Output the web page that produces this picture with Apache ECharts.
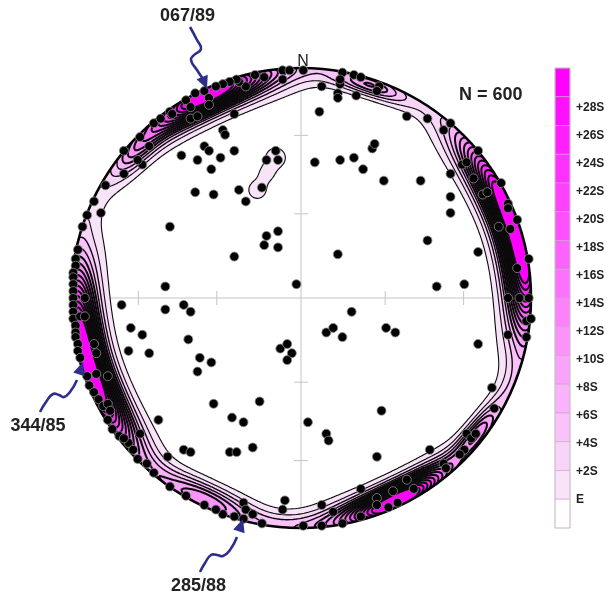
<!DOCTYPE html>
<html><head><meta charset="utf-8">
<script src="https://cdn.jsdelivr.net/npm/echarts/dist/echarts.min.js"></script>
<style>html,body{margin:0;padding:0;background:#fff}#c{width:614px;height:596px}</style>
</head><body><div id="c"></div>
<script>
// ---------- DATA (projected pole positions, percent of net radius) ----------
const poleXY = [
[-78,-3],[-59,-5],[-51,-3],[-48,-6],[-74,-13],[-69,-16],[-49,-18],[-75,-23],[-66,-24],[-44,-26],[-39,-28],[-45,-32],
[-9,-22],[-6,-20],[-4,-24],[-6,-27],[-38,-46],[-18,-45],[-30,-52],[-25,-54],[-62,-53],[-70,-59],[-51,-66],[-48,-67],
[-31,-67],[-28,-67],[-21,-65],[-58,-69],[-7,-88],[-8,-92],[-25,-89],[-24,-92],[-21,-94],
[22,-6],[11,-15],[14,-13],[18,-17],[37,-13],[41,-15],[77,-20],[83,-39],[84,-48],[35,-49],[3,-54],[11,-59],[12,-62],
[33,-69],[56,-66],[90,-16],[90,0],[95,0],
[72,-59],[74,-61],[76,-59],[71,-66],[69,-68],[62,-72],[63,-74],[46,-79],[49,-83],[40,-84],[33,-87],[33,-90],[38,-91],
[42,-89],[26,-83],[9,-90],[14,-93],[26,-95],[18,-98],[9,-99],[1,-99],[-17,-98],[-25,-96],[-29,-95],[-34,-94],[-37,-92],
[-42,-90],[-50,-86],[-57,-82],[-64,-76],
[98,-10],[98,-17],[100,-9],
[-42,66],[-40,64],[-29,64],[-52,62],[-45,60],[-35,61],[-39,56],[-11,64],[-15,60],[-10,60],[-17,48],[-27,47],[-24,42],
[-46,46],[-38,45],[-57,31],[-15,27],[-10,29],[-16,23],[-10,22],[-29,18],[-59,5],[-2,6],[-87,37],
[-29,80],[-34,73],[-33,71],[-69,58],[-71,60],[-66,66],[-77,54],[-85,49],[-77,64],[-70,70],[-64,76],[-61,78],[-57,81],[-90,42],
[8,81],[46,79],[55,78],[65,76],[62,73],[6,59],[17,60],[23,61],[27,56],[31,65],[32,67],[36,51],[52,51],[65,54],[65,44],
[65,37],[70,58],[72,59],[75,52],[77,64],[55,25],[16,19],[77,20],[59,5],[71,6],[79,45],[81,46],[87,50],[90,41],[90,39],
[91,30],[86,31],[94,34],[99,17],[94,13],[99,0],
[9,92],[17,93],[16,89],[24,88],[34,92],[33,90],[18,98],[23,97],[26,96],[17,95],[16,87],[-8,99],[-5,99],[1,99],[-8,95],
[-20,97],[-16,96],[-24,92],[-27,94],[-28,95],[-31,94],[-34,93],[-37,92],[-42,90],[-40,87],[-40,84],[-46,89],[-50,86],
[-48,83],[-48,78],[-45,79],[-56,80],
[-97,21],[-98,17],[-98,14],[-99,11],[-99,9],[-99,6],[-99,3],[-99,0],[-99,-3],[-99,-6],[-99,-9],[-98,-12],[-98,-15],
[-98,-17],[-97,-20],[-97,-23],[-96,-26],[-93,-34],[-92,-38],[-90,-41],[-88,-44],[-86,-47],[-84,-53],[-82,-57],[-79,-60],
[-75,-63],[-73,-66],[-94,0],[-96,-8],[-94,-8],[-90,-20],[-89,-24],[-89,-33],[-84,-34],[-84,-46],[-83,-49],[-77,-61],
[-71,-70],[-67,-72],[-95,31],[-93,36]
];
const sampleSize = 600;
const levelLabels = ['E','+2S','+4S','+6S','+8S','+10S','+12S','+14S','+16S','+18S','+20S','+22S','+24S','+26S','+28S'];
const contourLevels = [0,2,4,6,8,10,12,14,16,18,20,22,24,26,28];
// pole concentrations (azimuth deg, radius %, peak in sigma, spreads)
const clusterAz = [335, 72.5, 253.5, 154.5, 18, 128, 205, 312];
const clusterR = [97.5, 97.5, 97, 97.5, 97, 96, 95, 96];
const clusterPeak = [34, 34, 34, 34, 9, 9, 8, 8];
const clusterSpreadAz = [16, 25, 23.3, 14.6, 9, 8, 11, 9];
const clusterArcShape = [2, 2.8, 2.6, 2, 2, 2, 2, 2];
const clusterSpreadR = [5.6, 6, 6, 5, 3, 3, 4, 4];
// density along the primitive circle away from the main concentrations
const bandAz = [0,30,60,90,120,150,180,210,240,270,300,330];
const bandPeak = [4,3,1.5,1.5,6,1.5,6.5,8,2,2,2.5,1.5];
// small interior concentration
const blobX = [-11,-15,-19], blobY = [61,54,47], blobPeak = [2.6,2.0,2.6], blobSpread = [4,3,3.5];
const tickPlunge = [30, 60];
const annotationText = ['067/89','344/85','285/88'];

// ---------- density field ----------
const EXPECTED = 1.5, BAND_W = 4.2;
function wrapDeg(d){ d%=360; if(d>180)d-=360; if(d<-180)d+=360; return d; }
function bandAt(az){
  const n=bandAz.length, step=360/n; const k=Math.floor(az/step)%n; const f=(az-k*step)/step; const s=f*f*(3-2*f);
  return bandPeak[k]*(1-s)+bandPeak[(k+1)%n]*s;
}
function density(x,y){
  const r=Math.hypot(x,y); let az=Math.atan2(x,y)*180/Math.PI; if(az<0)az+=360;
  let s=-EXPECTED; const dr=100-r;
  s+=bandAt(az)*Math.exp(-dr*dr/(2*BAND_W*BAND_W));
  for(let k=0;k<clusterAz.length;k++){
    const da=Math.abs(wrapDeg(az-clusterAz[k]))/clusterSpreadAz[k], rr=(r-clusterR[k])/clusterSpreadR[k];
    s+=clusterPeak[k]*Math.exp(-Math.pow(da,clusterArcShape[k])-rr*rr/2);
  }
  for(let k=0;k<blobX.length;k++){
    const dx=x-blobX[k], dy=y-blobY[k];
    s+=blobPeak[k]*Math.exp(-(dx*dx+dy*dy)/(2*blobSpread[k]*blobSpread[k]));
  }
  return s;
}
const G=300, EXT=106, H=2*EXT/G, N1=G+1;
const V=new Float32Array(N1*N1);
for(let j=0;j<N1;j++)for(let i=0;i<N1;i++)V[j*N1+i]=density(-EXT+i*H,-EXT+j*H);
const NB=contourLevels.length;
function bandOf(v){ if(v<contourLevels[0])return 0; let b=0; for(let k=0;k<NB;k++) if(v>=contourLevels[k]) b=k+1; return b; }
const cellBand=new Int8Array(G*G);
for(let j=0;j<G;j++)for(let i=0;i<G;i++){
  const cx=-EXT+(i+0.5)*H, cy=-EXT+(j+0.5)*H;
  if(Math.hypot(cx,cy)>103){cellBand[j*G+i]=0;continue;}
  const v=(V[j*N1+i]+V[j*N1+i+1]+V[(j+1)*N1+i]+V[(j+1)*N1+i+1])/4;
  cellBand[j*G+i]=bandOf(v);
}
function bandColor(b){
  if(b<=0) return '#ffffff';
  const t=(b-1)/(NB-1);
  const rb=Math.round(248+7*t), g=Math.round(228*(1-t));
  return 'rgb('+rb+','+g+','+rb+')';
}
function isoSegments(level){
  const segs=[];
  for(let j=0;j<G;j++)for(let i=0;i<G;i++){
    const x0=-EXT+i*H, y0=-EXT+j*H;
    if(Math.hypot(x0,y0)>104) continue;
    const a=V[j*N1+i], b=V[j*N1+i+1], c=V[(j+1)*N1+i+1], d=V[(j+1)*N1+i];
    let idx=0; if(a>=level)idx|=1; if(b>=level)idx|=2; if(c>=level)idx|=4; if(d>=level)idx|=8;
    if(idx===0||idx===15) continue;
    const eB=()=>[x0+H*(level-a)/(b-a), y0];
    const eR=()=>[x0+H, y0+H*(level-b)/(c-b)];
    const eT=()=>[x0+H*(level-d)/(c-d), y0+H];
    const eL=()=>[x0, y0+H*(level-a)/(d-a)];
    switch(idx){
      case 1: case 14: segs.push([eL(),eB()]); break;
      case 2: case 13: segs.push([eB(),eR()]); break;
      case 3: case 12: segs.push([eL(),eR()]); break;
      case 4: case 11: segs.push([eR(),eT()]); break;
      case 6: case 9: segs.push([eB(),eT()]); break;
      case 7: case 8: segs.push([eL(),eT()]); break;
      case 5: { const m=(a+b+c+d)/4; if(m>=level){segs.push([eL(),eT()]);segs.push([eB(),eR()]);} else {segs.push([eL(),eB()]);segs.push([eR(),eT()]);} break; }
      case 10: { const m=(a+b+c+d)/4; if(m>=level){segs.push([eL(),eB()]);segs.push([eR(),eT()]);} else {segs.push([eL(),eT()]);segs.push([eB(),eR()]);} break; }
    }
  }
  return segs;
}
const isoCache=contourLevels.map(isoSegments);

function mapper(api){
  const o=api.coord([0,0]), ex=api.coord([100,0]), ey=api.coord([0,100]);
  const sx=(ex[0]-o[0])/100, sy=(ey[1]-o[1])/100;
  return (x,y)=>[o[0]+x*sx, o[1]+y*sy];
}
function renderCross(params, api){
  const M=mapper(api); const ch=[]; const st={stroke:'#c4c4c4', lineWidth:1};
  const a=M(-100,0), b=M(100,0), c=M(0,-100), d=M(0,100);
  ch.push({type:'line', shape:{x1:a[0],y1:a[1],x2:b[0],y2:b[1]}, style:st});
  ch.push({type:'line', shape:{x1:c[0],y1:c[1],x2:d[0],y2:d[1]}, style:st});
  tickPlunge.forEach(p=>{
    const r=100*Math.SQRT2*Math.sin((90-p)/2*Math.PI/180);
    [[r,0],[-r,0]].forEach(q=>{const u=M(q[0],q[1]); ch.push({type:'line',shape:{x1:u[0],y1:u[1]-7,x2:u[0],y2:u[1]+7},style:st});});
    [[0,r],[0,-r]].forEach(q=>{const u=M(q[0],q[1]); ch.push({type:'line',shape:{x1:u[0]-7,y1:u[1],x2:u[0]+7,y2:u[1]},style:st});});
  });
  return {type:'group', children:ch};
}
function renderFill(params, api){
  const M=mapper(api); const ch=[];
  for(let b=1;b<=NB;b++){
    const parts=[];
    for(let j=0;j<G;j++){
      const y0=-EXT+j*H, y1=y0+H; let i=0;
      while(i<G){
        if(cellBand[j*G+i]>=b){
          let k=i; while(k<G&&cellBand[j*G+k]>=b)k++;
          const p0=M(-EXT+i*H,y1), p1=M(-EXT+k*H,y0);
          const X0=p0[0].toFixed(1), Y0=p0[1].toFixed(1), X1=(p1[0]+0.4).toFixed(1), Y1=(p1[1]+0.6).toFixed(1);
          parts.push('M'+X0+' '+Y0+'L'+X1+' '+Y0+'L'+X1+' '+Y1+'L'+X0+' '+Y1+'Z');
          i=k;
        } else i++;
      }
    }
    if(parts.length) ch.push({type:'path', shape:{pathData:parts.join('')}, style:{fill:bandColor(b), stroke:'none'}});
  }
  return {type:'group', children:ch};
}
function renderLines(params, api){
  const M=mapper(api); const ch=[];
  isoCache.forEach((segs,li)=>{
    const parts=[];
    segs.forEach(s=>{const p=M(s[0][0],s[0][1]), q=M(s[1][0],s[1][1]); parts.push('M'+p[0].toFixed(2)+' '+p[1].toFixed(2)+'L'+q[0].toFixed(2)+' '+q[1].toFixed(2));});
    const L=contourLevels[li];
    const lw = L>=8 ? 2.0 : (L>=4 ? 1.4 : 1.1);
    if(parts.length) ch.push({type:'path', shape:{pathData:parts.join('')}, style:{fill:'none', stroke:'#0a0a0a', lineWidth:lw, lineCap:'round'}});
  });
  return {type:'group', children:ch};
}
function renderMask(params, api){
  const M=mapper(api); const o=M(0,0), e=M(100,0); const R=e[0]-o[0];
  return {type:'group', children:[
    {type:'ring', shape:{cx:o[0], cy:o[1], r:900, r0:R}, style:{fill:'#fff'}},
    {type:'circle', shape:{cx:o[0], cy:o[1], r:R}, style:{fill:'none', stroke:'#000', lineWidth:2.6}}
  ]};
}

// ---------- layout graphics (colorbar, labels, arrows) ----------
const FONT='"Liberation Sans", Arial, Helvetica, sans-serif';
const gfx=[];
const cbX=555, cbY=68, cbW=15, cbBoxH=28.75, nBoxes=NB+1;
for(let k=0;k<nBoxes;k++){
  const b=NB-k;
  gfx.push({type:'rect', z:100, shape:{x:cbX, y:cbY+k*cbBoxH, width:cbW, height:cbBoxH}, style:{fill:bandColor(b), stroke:'#c7a3c7', lineWidth:0.6}});
}
gfx.push({type:'rect', z:101, shape:{x:cbX, y:cbY, width:cbW, height:cbBoxH*nBoxes}, style:{fill:'none', stroke:'#c8c8c8', lineWidth:0.8}});
levelLabels.forEach((t,i)=>{
  gfx.push({type:'text', z:101, x:576, y:500-28*i, style:{text:t, font:'bold 12px '+FONT, fill:'#222', textAlign:'left', align:'left', textVerticalAlign:'middle', verticalAlign:'middle'}});
});
function txt(t,x,y,font,align){ return {type:'text', z:102, x:x, y:y, style:{text:t, font:font, fill:'#222', textAlign:align, align:align, textVerticalAlign:'middle', verticalAlign:'middle'}}; }
gfx.push(txt('N = '+sampleSize, 459, 95.5, 'bold 18px '+FONT, 'left'));
gfx.push(txt('N', 303, 62, '16px '+FONT, 'center'));
gfx.push(txt(annotationText[0], 187.5, 16.5, 'bold 18px '+FONT, 'center'));
gfx.push(txt(annotationText[1], 38, 426.5, 'bold 18px '+FONT, 'center'));
gfx.push(txt(annotationText[2], 198.5, 586.5, 'bold 18px '+FONT, 'center'));
const arrowShafts=[
  [[190,27],[197,40],[201,49],[194,55],[191,60],[197,70],[203,79]],
  [[40,412],[46,402],[53,394],[59,395],[64,397],[70,392],[77,380]],
  [[200,572],[205,563],[211,555],[217,555],[223,556],[230,550],[237,537]]
];
const arrowTips=[[207,89],[83,362],[243,519]];
const ARROW='#2f2e8a';
arrowShafts.forEach((pts,k)=>{
  gfx.push({type:'polyline', z:102, shape:{points:pts, smooth:0.5}, style:{stroke:ARROW, lineWidth:2.6, fill:'none'}});
  const T=arrowTips[k], P=pts[pts.length-1]; let ux=T[0]-P[0], uy=T[1]-P[1]; const L=Math.hypot(ux,uy); ux/=L; uy/=L;
  const bx=T[0]-ux*13, by=T[1]-uy*13;
  gfx.push({type:'polygon', z:102, shape:{points:[T,[bx-uy*6,by+ux*6],[bx+uy*6,by-ux*6]]}, style:{fill:ARROW}});
});

const chart=echarts.init(document.getElementById('c'));
chart.setOption({
  animation:false,
  backgroundColor:'#fff',
  grid:{left:71, top:68, width:460, height:460, containLabel:false, outerBoundsMode:'none'},
  xAxis:{type:'value', min:-100, max:100, show:false},
  yAxis:{type:'value', min:-100, max:100, show:false},
  series:[
    {type:'custom', z:1, silent:true, data:[[0,0]], renderItem:renderCross},
    {type:'custom', z:2, silent:true, data:[[0,0]], renderItem:renderFill},
    {type:'custom', z:3, silent:true, data:[[0,0]], renderItem:renderLines},
    {type:'custom', z:4, silent:true, data:[[0,0]], renderItem:renderMask},
    {type:'scatter', z:6, silent:true, data:poleXY, symbolSize:9, itemStyle:{color:'#000', borderColor:'#8c8c8c', borderWidth:0.8, opacity:1}}
  ],
  graphic:{elements:gfx}
});
</script></body></html>
